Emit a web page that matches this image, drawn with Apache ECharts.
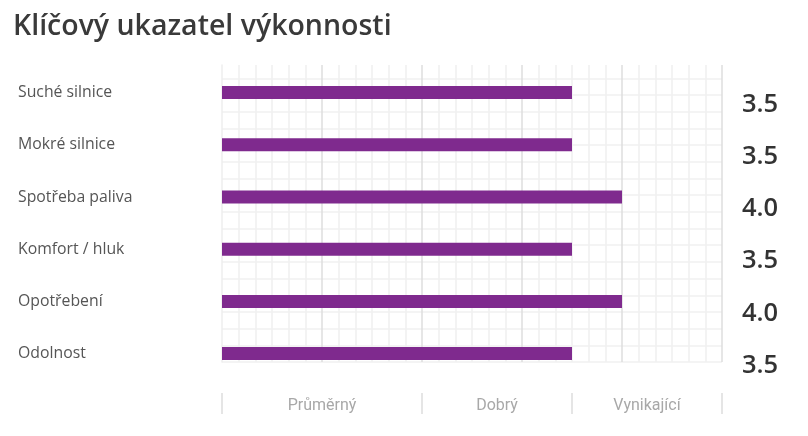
<!DOCTYPE html>
<html>
<head>
<meta charset="utf-8">
<script src="https://cdn.jsdelivr.net/npm/echarts@6/dist/echarts.min.js"></script>
<style>
  html, body { margin: 0; padding: 0; background: #fff; }
  #chart { width: 808px; height: 436px; }
</style>
</head>
<body>
<div id="chart"></div>
<script>
let categories = [
  "Suché silnice",
  "Mokré silnice",
  "Spotřeba paliva",
  "Komfort / hluk",
  "Opotřebení",
  "Odolnost",
];
let scores = [3.5, 3.5, 4.0, 3.5, 4.0, 3.5];
let ratingNames = ["Průměrný", "Dobrý", "Vynikající"];
let ratingEdges = [0, 2, 3.5, 5];

// label sits in the middle of each rating band
let ratingCenters = ratingNames.map((n, i) => (ratingEdges[i] + ratingEdges[i + 1]) / 2);

let chart = echarts.init(document.getElementById("chart"));

let option = {
  animation: false,
  title: {
    text: "Klíčový ukazatel výkonnosti",
    left: 8,
    top: 7,
    textStyle: {
      fontFamily: "Open Sans",
      fontSize: 28.5,
      fontWeight: 600,
      color: "#3a3a3a",
    },
  },
  grid: [
    // background squares
    { left: 222, width: 500, top: 65, height: 297 },
    // bars
    { left: 222, width: 500, top: 66.5, height: 313.2 },
    // score column, a bit lower than the bars
    { left: 222, width: 500, top: 78.5, height: 313.2 },
  ],
  xAxis: [
    {
      gridIndex: 0,
      type: "value",
      min: 0,
      max: 5,
      interval: 1,
      axisLine: { show: false },
      axisTick: { show: false },
      axisLabel: { show: false },
      splitLine: { show: true, showMinLine: false, lineStyle: { color: "#dedede", width: 1.5 } },
      minorTick: { show: false, splitNumber: 6 },
      minorSplitLine: { show: true, lineStyle: { color: "#f0f0f0", width: 1.5 } },
    },
    {
      gridIndex: 1,
      type: "value",
      min: 0,
      max: 5,
      show: false,
    },
    {
      gridIndex: 2,
      type: "value",
      min: 0,
      max: 5,
      show: false,
    },
    {
      gridIndex: 0,
      type: "value",
      min: 0,
      max: 5,
      position: "bottom",
      offset: 31,
      axisLine: { show: false },
      splitLine: { show: false },
      axisTick: {
        show: true,
        customValues: ratingEdges,
        length: 21,
        lineStyle: { color: "#dddddd", width: 1.5 },
      },
      axisLabel: {
        show: true,
        customValues: ratingCenters,
        margin: 5,
        fontFamily: "Roboto",
        fontSize: 16,
        color: "#a8a8a8",
        formatter: (v) => ratingNames[ratingCenters.indexOf(v)] || "",
      },
    },
  ],
  yAxis: [
    {
      gridIndex: 0,
      type: "value",
      min: 0,
      max: 17.8,
      interval: 1,
      axisLine: { show: true, lineStyle: { color: "#eeeeee", width: 1.5 } },
      axisTick: { show: false },
      axisLabel: { show: false },
      splitLine: { show: true, showMaxLine: false, lineStyle: { color: "#f0f0f0", width: 1.5 } },
    },
    {
      gridIndex: 1,
      type: "category",
      inverse: true,
      data: categories,
      axisLine: { show: false },
      axisTick: { show: false },
      splitLine: { show: false },
      axisLabel: {
        align: "left",
        margin: 204,
        fontFamily: "Open Sans",
        fontSize: 15.8,
        color: "#555555",
      },
    },
    {
      gridIndex: 2,
      type: "category",
      inverse: true,
      position: "right",
      data: scores.map((s) => s.toFixed(1)),
      axisLine: { show: false },
      axisTick: { show: false },
      splitLine: { show: false },
      axisLabel: {
        align: "left",
        margin: 20,
        fontFamily: "Open Sans",
        fontSize: 25.5,
        fontWeight: 600,
        color: "#333333",
      },
    },
  ],
  series: [
    {
      type: "bar",
      xAxisIndex: 1,
      yAxisIndex: 1,
      data: scores,
      barWidth: 13,
      itemStyle: { color: "#7f2a8e" },
      silent: true,
    },
  ],
};

chart.setOption(option);
</script>
</body>
</html>
